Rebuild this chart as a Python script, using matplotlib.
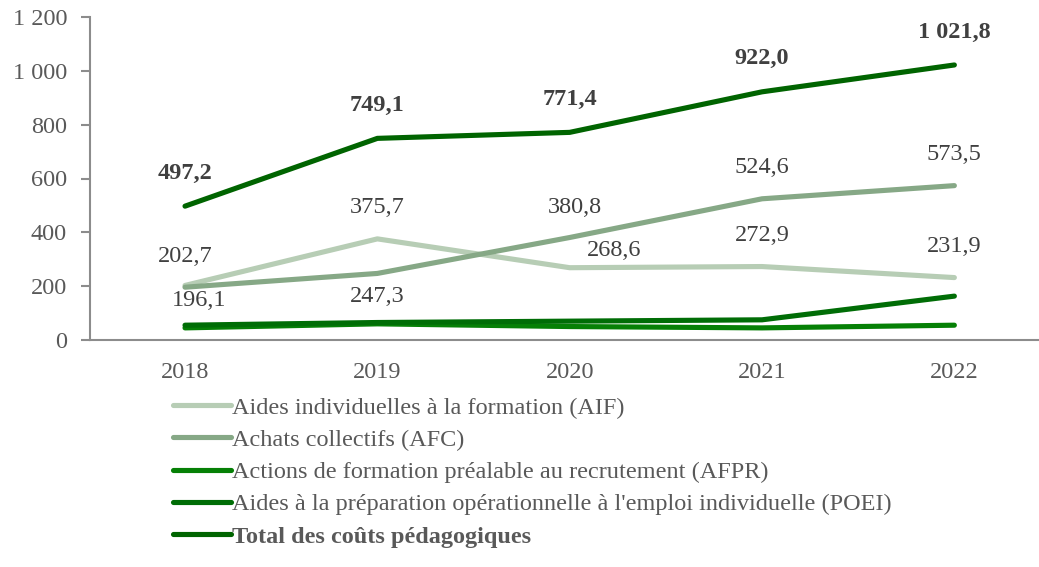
import numpy as np
import matplotlib
matplotlib.use('Agg')
import matplotlib.pyplot as plt

plt.rcParams['font.family'] = ['Liberation Serif', 'DejaVu Serif']

years = ['2018', '2019', '2020', '2021', '2022']
aif = [202.7, 375.7, 268.6, 272.9, 231.9]
afc = [196.1, 247.3, 380.8, 524.6, 573.5]
afpr = [45, 60, 50, 45, 55]
poei = [55, 65, 70, 75, 163]
total = [497.2, 749.1, 771.4, 922.0, 1021.8]

names = ['Aides individuelles à la formation (AIF)',
         'Achats collectifs (AFC)',
         'Actions de formation préalable au recrutement (AFPR)',
         "Aides à la préparation opérationnelle à l'emploi individuelle (POEI)",
         'Total des coûts pédagogiques']
colors = ['#b7cdb5', '#86a886', '#068006', '#006d06', '#006400']

def fmt(v):
    s = '{:,.1f}'.format(v)
    return s.replace(',', ' ').replace('.', ',')

fig = plt.figure(figsize=(10.39, 5.67), dpi=100)
ax = fig.add_axes([90 / 1039, 1 - 340 / 567, 949 / 1039, 323 / 567])

x = np.arange(len(years))
series = [aif, afc, afpr, poei, total]
lines = []
for vals, c in zip(series, colors):
    ln, = ax.plot(x, vals, color=c, lw=3.7, solid_capstyle='round')
    lines.append(ln)

lab_color = '#404040'
fs = 17.5
# label offsets in pixels
aif_off = [(0, 29), (0, 31), (44, 17), (0, 31), (0, 31)]
for i, v in enumerate(aif):
    ax.annotate(fmt(v), (x[i], v), xytext=aif_off[i], textcoords='offset pixels',
                ha='center', va='center', fontsize=fs, color=lab_color)
afc_off = [(14, -13), (0, -23), (5, 30), (0, 31), (0, 31)]
for i, v in enumerate(afc):
    ax.annotate(fmt(v), (x[i], v), xytext=afc_off[i], textcoords='offset pixels',
                ha='center', va='center', fontsize=fs, color=lab_color)
for i, v in enumerate(total):
    ax.annotate(fmt(v), (x[i], v), xytext=(0, 33), textcoords='offset pixels',
                ha='center', va='center', fontsize=fs, color=lab_color, fontweight='bold')

ax.set_xlim(-0.494, 4.44)
ax.set_ylim(0, 1200)
ax.set_xticks(x)
ax.set_xticklabels(years)
ax.set_yticks(np.arange(0, 1201, 200))
ax.set_yticklabels([fmt(v).replace(',0', '') for v in np.arange(0, 1201, 200)])
for s in ['top', 'right']:
    ax.spines[s].set_visible(False)
for s in ['left', 'bottom']:
    ax.spines[s].set_color('#8c8c8c')
    ax.spines[s].set_linewidth(1.5)
ax.tick_params(axis='y', length=6.5, width=1.5, color='#8c8c8c', labelsize=fs,
               labelcolor='#595959', pad=10)
ax.tick_params(axis='x', length=0, labelsize=fs, labelcolor='#595959', pad=16)

leg = fig.legend(lines, names, loc='upper left', bbox_to_anchor=(163 / 1039, 1 - 387 / 567),
                 frameon=False, fontsize=fs, handlelength=2.4, handletextpad=0.05,
                 labelspacing=0.42, borderaxespad=0, labelcolor='#595959')
leg.get_texts()[-1].set_fontweight('bold')

fig.savefig('out.png', dpi=100)
